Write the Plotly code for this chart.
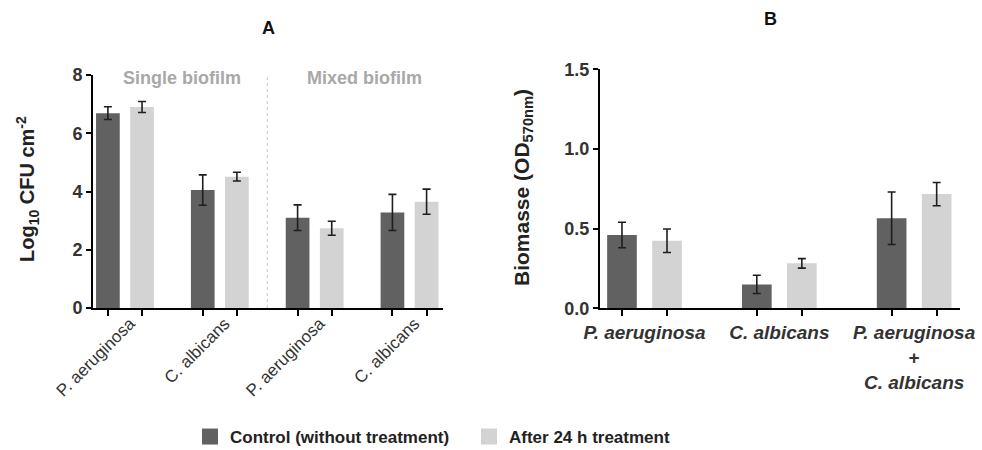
import numpy as np
import plotly.graph_objects as go

# ---- Panel A: CFU counts (log10 CFU cm^-2) ----
a_labels = ["P. aeruginosa", "C. albicans", "P. aeruginosa", "C. albicans"]
a_control = [6.69, 4.05, 3.10, 3.28]
a_control_sd = [0.22, 0.52, 0.44, 0.62]
a_treated = [6.90, 4.51, 2.74, 3.65]
a_treated_sd = [0.19, 0.15, 0.24, 0.43]
a_groups = ["Single biofilm", "Mixed biofilm"]

# ---- Panel B: biomass (OD570nm) ----
b_labels = ["<i>P. aeruginosa</i>", "<i>C. albicans</i>",
            "<i>P. aeruginosa</i><br>+<br><i>C. albicans</i>"]
b_control = [0.46, 0.15, 0.565]
b_control_sd = [0.08, 0.057, 0.165]
b_treated = [0.424, 0.282, 0.717]
b_treated_sd = [0.074, 0.03, 0.073]

series_names = ["Control (without treatment)", "After 24 h treatment"]
DARK = "#616161"
LIGHT = "#d3d3d3"
FONT = "Arial, Liberation Sans, sans-serif"
INK = "#262626"

fig = go.Figure()


def add_pair(xaxis, yaxis, n, ctrl, ctrl_sd, trt, trt_sd, off, width):
    idx = np.arange(n)
    for vals, sd, color, name, sign in [
        (ctrl, ctrl_sd, DARK, series_names[0], -1),
        (trt, trt_sd, LIGHT, series_names[1], 1),
    ]:
        fig.add_trace(go.Bar(
            x=idx + sign * off, y=vals, width=width,
            marker=dict(color=color, line=dict(width=0)),
            error_y=dict(type="data", array=sd, visible=True,
                         color="#1e1e1e", thickness=1.6, width=4),
            name=name, legendgroup=name, showlegend=False,
            xaxis=xaxis, yaxis=yaxis,
        ))
    return np.sort(np.concatenate([idx - off, idx + off]))


a_ticks = add_pair("x", "y", len(a_labels), a_control, a_control_sd,
                   a_treated, a_treated_sd, 0.18, 0.25)
b_ticks = add_pair("x2", "y2", len(b_labels), b_control, b_control_sd,
                   b_treated, b_treated_sd, 0.167, 0.22)

# legend keys: large filled squares for the two conditions
for name, color in zip(series_names, [DARK, LIGHT]):
    fig.add_trace(go.Scatter(
        x=[None], y=[None], mode="markers", name=name, legendgroup=name,
        marker=dict(symbol="square", size=20, color=color),
        xaxis="x", yaxis="y", showlegend=True,
    ))

axis_common = dict(showline=True, linecolor="black", linewidth=2,
                   showgrid=False, zeroline=False, fixedrange=True,
                   automargin=False)

fig.update_layout(
    width=982, height=450,
    margin=dict(l=0, r=0, t=0, b=0, autoexpand=False),
    plot_bgcolor="white", paper_bgcolor="white",
    font=dict(family=FONT, color=INK),
    barmode="overlay",
    xaxis=dict(
        domain=[93 / 982, 443 / 982], range=[-0.337, 3.353],
        tickmode="array", tickvals=list(range(len(a_labels))), ticktext=a_labels,
        tickangle=-45, ticks="", tickfont=dict(size=17, color="#333333"),
        ticklabelshift=5, ticklabelstandoff=-3,
        minor=dict(tickmode="array", tickvals=list(a_ticks), ticks="outside",
                   ticklen=6, tickwidth=2, tickcolor="black"),
        anchor="y", **axis_common,
    ),
    yaxis=dict(
        domain=[1 - 308 / 450, 1 - 75 / 450], range=[0, 8],
        tickvals=[0, 2, 4, 6, 8], ticks="outside", ticklen=5, tickwidth=2,
        tickcolor="black", tickfont=dict(size=18, weight="bold", color="#333333"),
        anchor="x", **axis_common,
    ),
    xaxis2=dict(
        domain=[600 / 982, 960 / 982], range=[-0.33, 2.34],
        tickmode="array", tickvals=list(range(len(b_labels))), ticktext=b_labels,
        tickangle=0, ticks="", ticklabelstandoff=6,
        tickfont=dict(size=19, weight="bold", color="#333333"),
        minor=dict(tickmode="array", tickvals=list(b_ticks), ticks="outside",
                   ticklen=6, tickwidth=2, tickcolor="black"),
        anchor="y2", **axis_common,
    ),
    yaxis2=dict(
        domain=[1 - 308.3 / 450, 1 - 69.3 / 450], range=[0, 1.5],
        tickvals=[0, 0.5, 1.0, 1.5], tickformat=".1f",
        ticks="outside", ticklen=5, tickwidth=2, tickcolor="black",
        tickfont=dict(size=18, weight="bold", color="#333333"),
        anchor="x2", **axis_common,
    ),
    legend=dict(
        orientation="h", x=190 / 982, xanchor="left", y=1 - 437 / 450,
        yanchor="middle", font=dict(size=17, weight="bold", color="#222222"),
        entrywidth=234, entrywidthmode="pixels",
        itemclick=False, itemdoubleclick=False,
    ),
)

# dotted separator between single and mixed biofilm groups
fig.add_shape(type="line", xref="x", yref="y", x0=1.5, x1=1.5, y0=0, y1=8,
              line=dict(color="#c8c8c8", width=1, dash="dot"))

annotations = [
    dict(text="A", x=268 / 982, y=1 - 28 / 450, xref="paper", yref="paper",
         xanchor="center", yanchor="middle",
         font=dict(size=18, weight="bold", color="#111111"), showarrow=False),
    dict(text="B", x=770 / 982, y=1 - 19 / 450, xref="paper", yref="paper",
         xanchor="center", yanchor="middle",
         font=dict(size=18, weight="bold", color="#111111"), showarrow=False),
    dict(text="Log<sub>10</sub> CFU cm<sup>-2</sup>", x=28 / 982, y=1 - 189 / 450,
         xref="paper", yref="paper", textangle=-90, showarrow=False,
         xanchor="center", yanchor="middle",
         font=dict(size=20, weight="bold", color="#222222")),
    dict(text="Biomasse (OD<sub>570nm</sub>)", x=523 / 982, y=1 - 188 / 450,
         xref="paper", yref="paper", textangle=-90, showarrow=False,
         xanchor="center", yanchor="middle",
         font=dict(size=21, weight="bold", color="#222222")),
]
for label, gx in zip(a_groups, [0.6, 2.53]):
    annotations.append(dict(text=label, x=gx, y=7.9, xref="x", yref="y",
                            showarrow=False,
                            font=dict(size=18, weight="bold", color="#a8a8a8")))
fig.update_layout(annotations=annotations)

fig.write_html("out.html")
